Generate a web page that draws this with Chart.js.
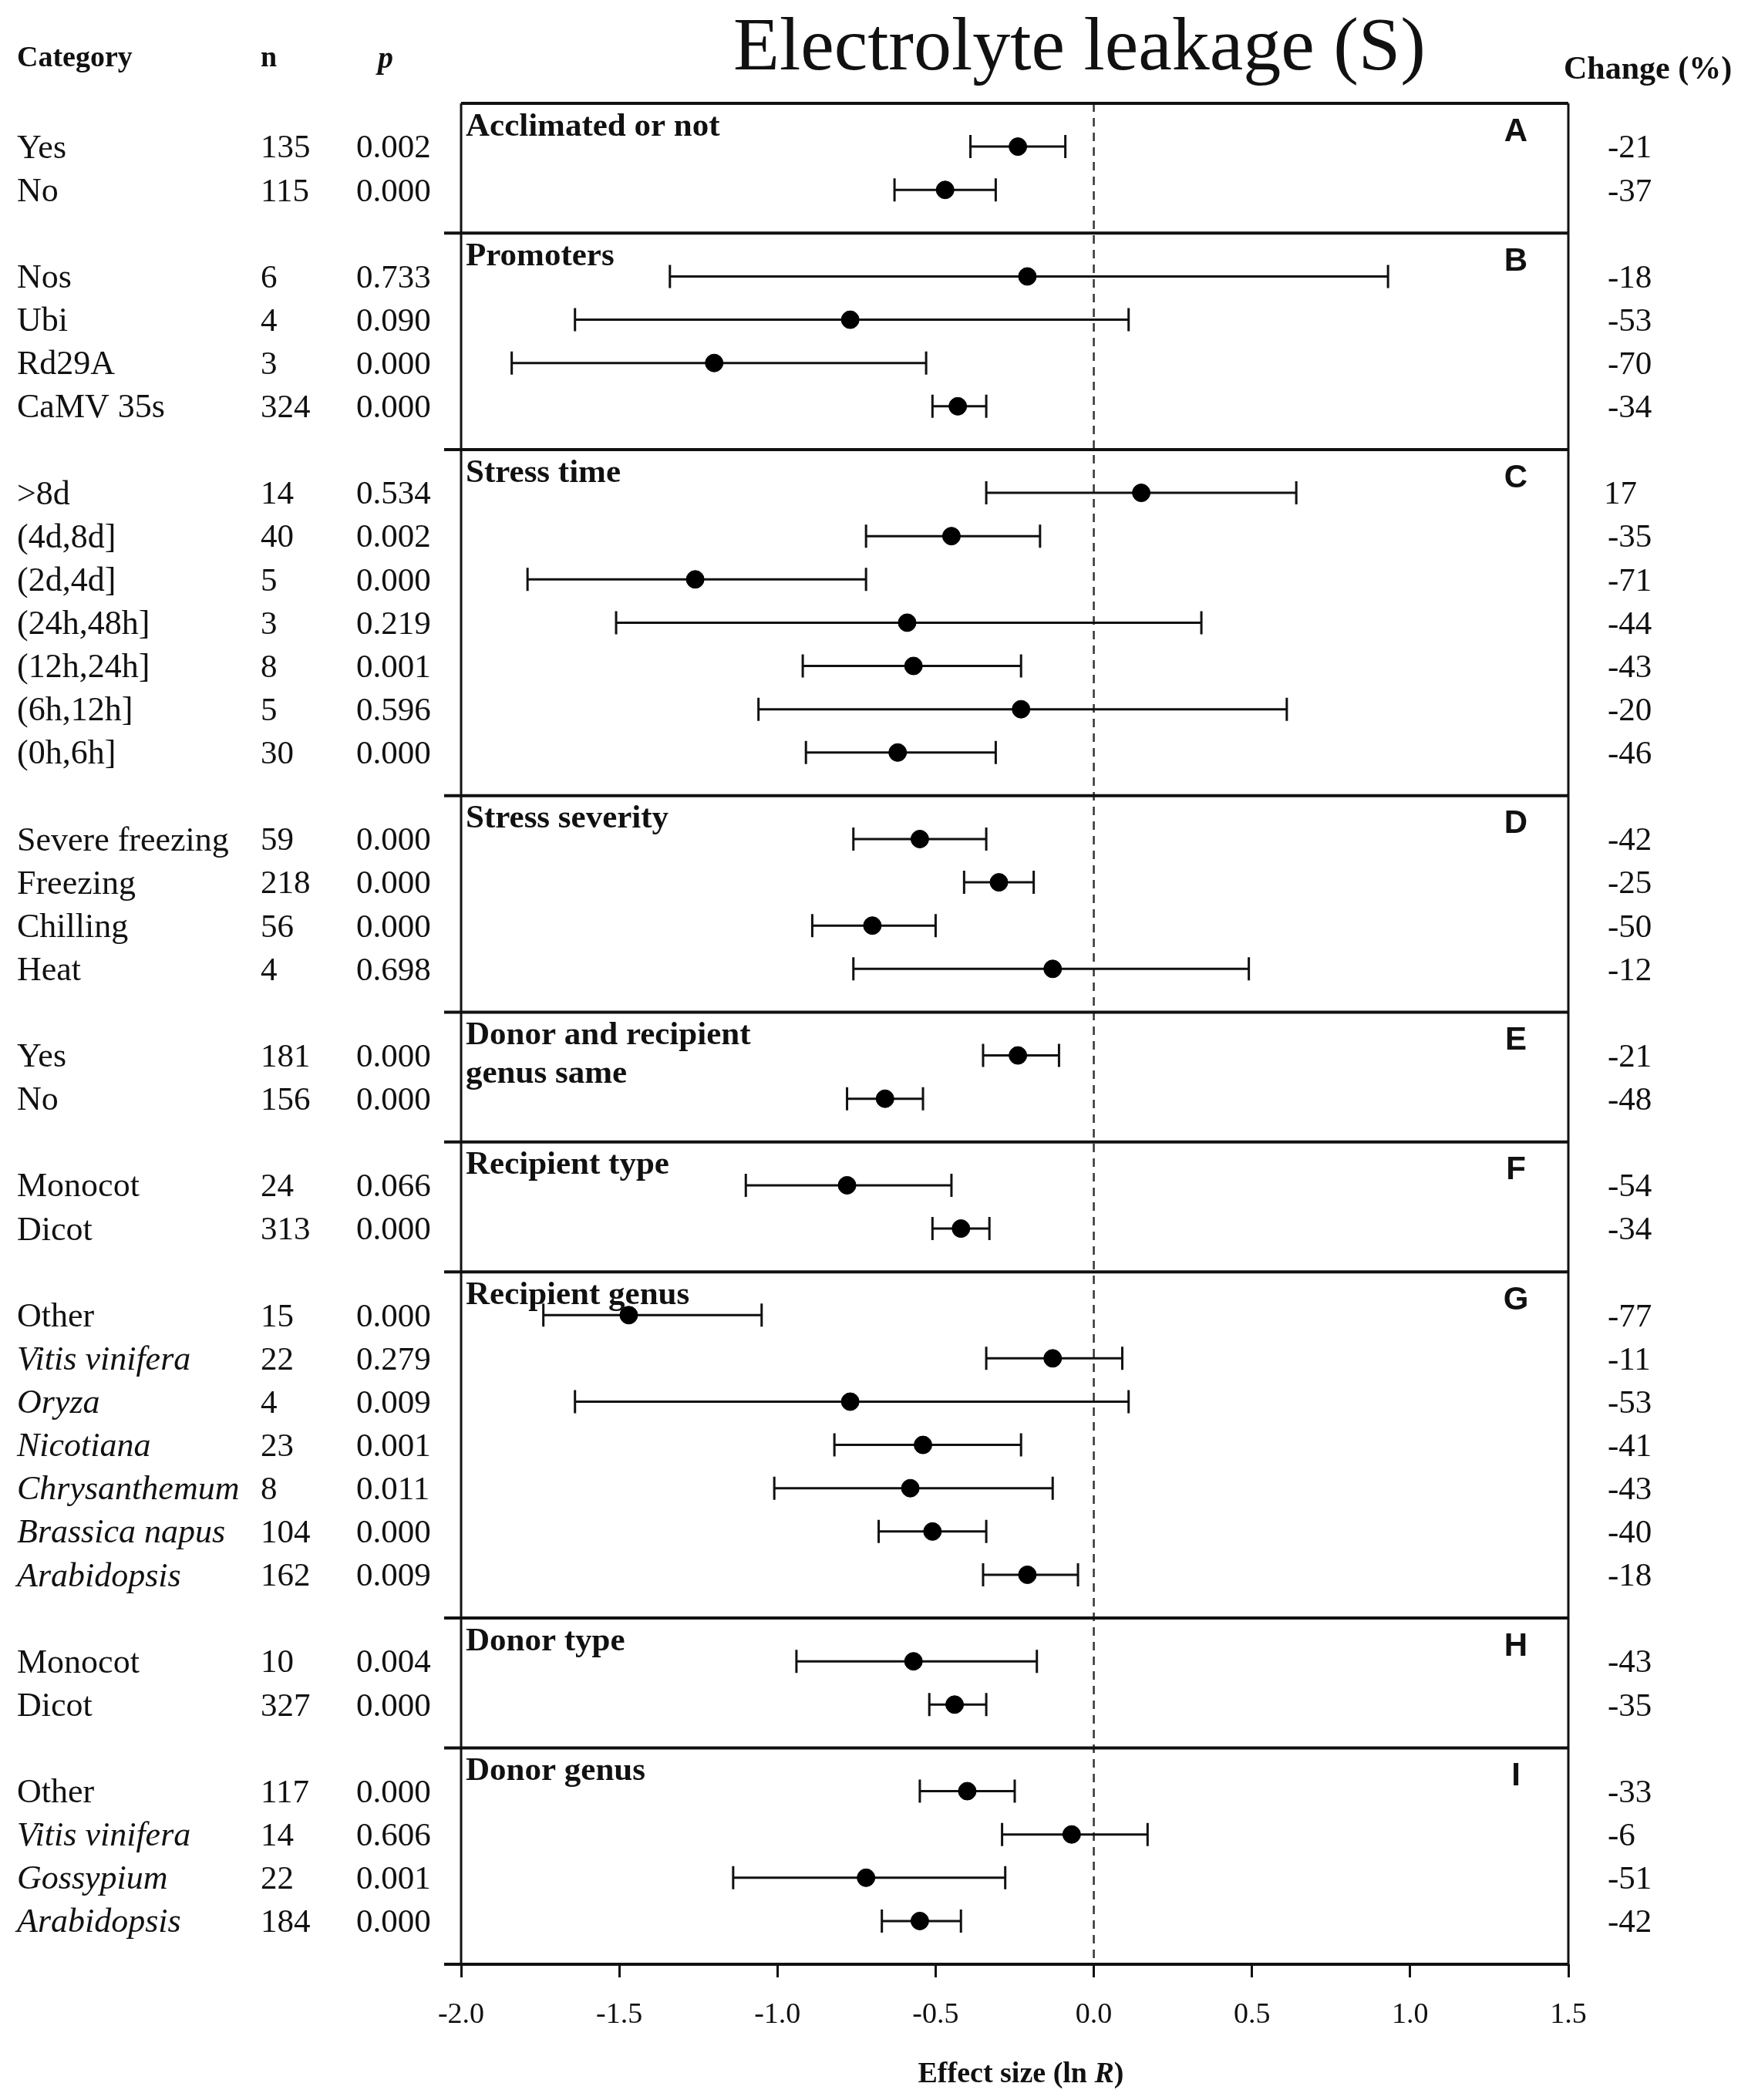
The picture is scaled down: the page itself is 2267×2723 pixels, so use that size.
<!DOCTYPE html>
<html>
<head>
<meta charset="utf-8">
<script src="https://cdn.jsdelivr.net/npm/chart.js@4.4.1/dist/chart.umd.min.js"></script>
<style>
  html, body { margin: 0; padding: 0; background: #fff; }
  #wrap { width: 2267px; height: 2723px; }
</style>
</head>
<body>
<div id="wrap"><canvas id="forest"></canvas></div>
<script>
// Datos del gráfico
var groupTitles = ['Acclimated or not', 'Promoters', 'Stress time', 'Stress severity',
  'Donor and recipient\ngenus same', 'Recipient type', 'Recipient genus', 'Donor type', 'Donor genus'];
var groupLetters = ['A', 'B', 'C', 'D', 'E', 'F', 'G', 'H', 'I'];
var groupSizes = [2, 4, 7, 4, 2, 2, 7, 2, 4];

var categories = ['Yes', 'No',
  'Nos', 'Ubi', 'Rd29A', 'CaMV 35s',
  '>8d', '(4d,8d]', '(2d,4d]', '(24h,48h]', '(12h,24h]', '(6h,12h]', '(0h,6h]',
  'Severe freezing', 'Freezing', 'Chilling', 'Heat',
  'Yes', 'No',
  'Monocot', 'Dicot',
  'Other', 'Vitis vinifera', 'Oryza', 'Nicotiana', 'Chrysanthemum', 'Brassica napus', 'Arabidopsis',
  'Monocot', 'Dicot',
  'Other', 'Vitis vinifera', 'Gossypium', 'Arabidopsis'];
var nValues = [135, 115, 6, 4, 3, 324, 14, 40, 5, 3, 8, 5, 30, 59, 218, 56, 4, 181, 156,
  24, 313, 15, 22, 4, 23, 8, 104, 162, 10, 327, 117, 14, 22, 184];
var pValues = ['0.002', '0.000', '0.733', '0.090', '0.000', '0.000',
  '0.534', '0.002', '0.000', '0.219', '0.001', '0.596', '0.000',
  '0.000', '0.000', '0.000', '0.698', '0.000', '0.000', '0.066', '0.000',
  '0.000', '0.279', '0.009', '0.001', '0.011', '0.000', '0.009',
  '0.004', '0.000', '0.000', '0.606', '0.001', '0.000'];
var effect = [-0.24, -0.47, -0.21, -0.77, -1.20, -0.43,
  0.15, -0.45, -1.26, -0.59, -0.57, -0.23, -0.62,
  -0.55, -0.30, -0.70, -0.13, -0.24, -0.66, -0.78, -0.42,
  -1.47, -0.13, -0.77, -0.54, -0.58, -0.51, -0.21,
  -0.57, -0.44, -0.40, -0.07, -0.72, -0.55];
var ciLow = [-0.39, -0.63, -1.34, -1.64, -1.84, -0.51,
  -0.34, -0.72, -1.79, -1.51, -0.92, -1.06, -0.91,
  -0.76, -0.41, -0.89, -0.76, -0.35, -0.78, -1.10, -0.51,
  -1.74, -0.34, -1.64, -0.82, -1.01, -0.68, -0.35,
  -0.94, -0.52, -0.55, -0.29, -1.14, -0.67];
var ciHigh = [-0.09, -0.31, 0.93, 0.11, -0.53, -0.34,
  0.64, -0.17, -0.72, 0.34, -0.23, 0.61, -0.31,
  -0.34, -0.19, -0.50, 0.49, -0.11, -0.54, -0.45, -0.33,
  -1.05, 0.09, 0.11, -0.23, -0.13, -0.34, -0.05,
  -0.18, -0.34, -0.25, 0.17, -0.28, -0.42];
var changePct = [-21, -37, -18, -53, -70, -34, 17, -35, -71, -44, -43, -20, -46,
  -42, -25, -50, -12, -21, -48, -54, -34, -77, -11, -53, -41, -43, -40, -18,
  -43, -35, -33, -6, -51, -42];
var xMin = -2.0, xMax = 1.5, xStep = 0.5;

// nombres en cursiva (especies)
var italicNames = ['Vitis vinifera', 'Oryza', 'Nicotiana', 'Chrysanthemum', 'Brassica napus', 'Arabidopsis', 'Gossypium'];

// posiciones de filas: cada grupo ocupa n+1 unidades
var rowPos = [];
var groupTop = [];
var pos = 0;
groupSizes.forEach(function (n) {
  groupTop.push(pos);
  for (var j = 1; j <= n; j++) rowPos.push(pos + j);
  pos += n + 1;
});
groupTop.push(pos);
var totalRows = pos;

var SERIF = '"Liberation Serif", "Times New Roman", serif';
var SANS = '"Liberation Sans Narrow", "Liberation Sans", Arial, sans-serif';

var points = effect.map(function (v, i) { return { x: v, y: rowPos[i] }; });

var forestPlugin = {
  id: 'forest',
  beforeDatasetsDraw: function (chart) {
    var ctx = chart.ctx, a = chart.chartArea;
    var xs = chart.scales.x, ys = chart.scales.y;
    ctx.save();
    // línea de referencia en cero
    ctx.strokeStyle = '#333';
    ctx.lineWidth = 2.5;
    ctx.setLineDash([11, 8]);
    ctx.beginPath();
    ctx.moveTo(xs.getPixelForValue(0), a.top);
    ctx.lineTo(xs.getPixelForValue(0), a.bottom);
    ctx.stroke();
    ctx.setLineDash([]);
    // barras de error
    ctx.strokeStyle = '#111';
    ctx.lineWidth = 3;
    for (var i = 0; i < effect.length; i++) {
      var y = ys.getPixelForValue(rowPos[i]);
      var x1 = xs.getPixelForValue(ciLow[i]);
      var x2 = xs.getPixelForValue(ciHigh[i]);
      ctx.beginPath();
      ctx.moveTo(x1, y); ctx.lineTo(x2, y);
      ctx.moveTo(x1, y - 15); ctx.lineTo(x1, y + 15);
      ctx.moveTo(x2, y - 15); ctx.lineTo(x2, y + 15);
      ctx.stroke();
    }
    ctx.restore();
  },
  afterDraw: function (chart) {
    var ctx = chart.ctx, a = chart.chartArea;
    var xs = chart.scales.x, ys = chart.scales.y;
    ctx.save();
    // marco y separadores de paneles
    ctx.strokeStyle = '#111';
    ctx.lineWidth = 3;
    ctx.beginPath();
    ctx.moveTo(a.left, a.top); ctx.lineTo(a.left, a.bottom);
    ctx.moveTo(a.right, a.top); ctx.lineTo(a.right, a.bottom);
    ctx.stroke();
    ctx.lineWidth = 4;
    for (var g = 0; g < groupTop.length; g++) {
      var yy = ys.getPixelForValue(groupTop[g]);
      ctx.beginPath();
      ctx.moveTo(g === 0 ? a.left : a.left - 22, yy);
      ctx.lineTo(a.right, yy);
      ctx.stroke();
    }

    ctx.fillStyle = '#111';
    // título
    ctx.font = '98px ' + SERIF;
    ctx.textAlign = 'center';
    ctx.textBaseline = 'alphabetic';
    ctx.fillText('Electrolyte leakage (S)', 1400, 90);

    // encabezados
    ctx.font = 'bold 38px ' + SERIF;
    ctx.textAlign = 'left';
    ctx.textBaseline = 'middle';
    ctx.fillText('Category', 22, 76);
    ctx.fillText('n', 338, 76);
    ctx.font = 'italic bold 40px ' + SERIF;
    ctx.fillText('p', 490, 78);
    ctx.font = 'bold 42px ' + SERIF;
    ctx.fillText('Change (%)', 2028, 91);

    // títulos y letras de paneles
    for (var k = 0; k < groupTitles.length; k++) {
      var top = ys.getPixelForValue(groupTop[k]);
      ctx.font = 'bold 43px ' + SERIF;
      ctx.textAlign = 'left';
      ctx.textBaseline = 'top';
      groupTitles[k].split('\n').forEach(function (line, li) {
        ctx.fillText(line, a.left + 6, top + 9 + li * 50);
      });
      ctx.font = 'bold 42px ' + SANS;
      ctx.textAlign = 'center';
      ctx.fillText(groupLetters[k], 1966, top + 16);
    }

    // columnas de texto por fila
    ctx.textBaseline = 'middle';
    for (var i = 0; i < categories.length; i++) {
      var y = ys.getPixelForValue(rowPos[i]) + 3;
      var it = italicNames.indexOf(categories[i]) >= 0;
      ctx.textAlign = 'left';
      ctx.font = (it ? 'italic ' : '') + '44px ' + SERIF;
      ctx.fillText(categories[i], 22, y);
      ctx.font = '43px ' + SERIF;
      ctx.fillText(String(nValues[i]), 338, y);
      ctx.fillText(pValues[i], 462, y);
      ctx.fillText(String(changePct[i]), changePct[i] < 0 ? 2085 : 2080, y);
    }

    // eje x: línea y título
    ctx.lineWidth = 4;
    ctx.beginPath();
    ctx.moveTo(a.left - 22, a.bottom);
    ctx.lineTo(a.right, a.bottom);
    ctx.stroke();
    var t1 = 'Effect size (ln ', t2 = 'R', t3 = ')';
    ctx.font = 'bold 38px ' + SERIF;
    var w1 = ctx.measureText(t1).width, w3 = ctx.measureText(t3).width;
    ctx.font = 'italic bold 38px ' + SERIF;
    var w2 = ctx.measureText(t2).width;
    var sx = (a.left + a.right) / 2 - (w1 + w2 + w3) / 2 + 8;
    ctx.textAlign = 'left';
    ctx.font = 'bold 38px ' + SERIF;
    ctx.fillText(t1, sx, 2690);
    ctx.font = 'italic bold 38px ' + SERIF;
    ctx.fillText(t2, sx + w1, 2690);
    ctx.font = 'bold 38px ' + SERIF;
    ctx.fillText(t3, sx + w1 + w2, 2690);
    ctx.restore();
  }
};

var ctxForest = document.getElementById('forest').getContext('2d');
var forestChart = new Chart(ctxForest, {
  type: 'scatter',
  data: {
    datasets: [{
      label: 'Effect size',
      data: points,
      backgroundColor: '#000',
      borderColor: '#000',
      pointRadius: 11.5,
      pointHoverRadius: 11.5
    }]
  },
  options: {
    responsive: true,
    maintainAspectRatio: false,
    devicePixelRatio: 1,
    animation: false,
    layout: { padding: { left: 598, right: 233, top: 134, bottom: 0 } },
    plugins: { legend: { display: false }, tooltip: { enabled: false }, title: { display: false } },
    scales: {
      x: {
        type: 'linear',
        min: xMin,
        max: xMax,
        afterFit: function (axis) { axis.height = 176; },
        border: { display: false },
        grid: { drawOnChartArea: false, drawTicks: true, tickLength: 17, color: '#111', lineWidth: 3 },
        ticks: {
          stepSize: xStep,
          color: '#111',
          padding: 26,
          font: { family: SERIF, size: 38 },
          callback: function (v) { return Number(v).toFixed(1); }
        }
      },
      y: {
        type: 'linear',
        min: 0,
        max: totalRows,
        reverse: true,
        display: false
      }
    }
  },
  plugins: [forestPlugin]
});
</script>
</body>
</html>
